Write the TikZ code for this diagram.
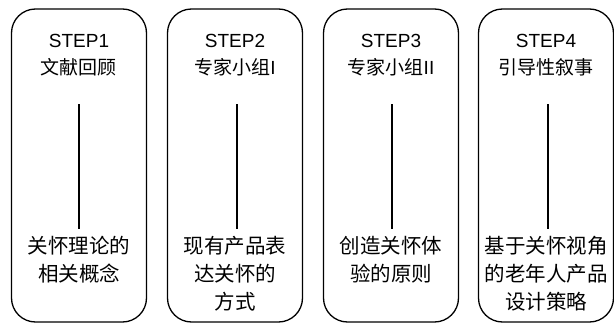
\documentclass[tikz,border=0pt]{standalone}
\usepackage{fontspec}
\setmainfont{Noto Sans CJK SC}
\newfontfamily\latinfont{Liberation Sans}
\begin{document}
\begin{tikzpicture}[x=1pt,y=-1pt,
  stepbox/.style={draw=black,line width=1.3pt,rounded corners=24pt,minimum width=135pt,minimum height=313pt,inner sep=0pt},
  titletext/.style={align=center,font=\fontsize{19}{27}\selectfont,inner sep=0pt},
  bodytext/.style={align=center,font=\fontsize{20.5}{28}\selectfont,inner sep=0pt,anchor=north},
  link/.style={line width=1.5pt}]
\useasboundingbox (0,0) rectangle (614,324);
\foreach \i/\cx in {1/79,2/235,3/391,4/546}{
  \node[stepbox] (box\i) at (\cx,165.5) {};
}
\node[titletext] (t1) at (79,55) {{\latinfont STEP1}\\文献回顾};
\node[titletext] (t2) at (235,55) {{\latinfont STEP2}\\专家小组{\latinfont I}};
\node[titletext] (t3) at (391,55) {{\latinfont STEP3}\\专家小组{\latinfont II}};
\node[titletext] (t4) at (546,55) {{\latinfont STEP4}\\引导性叙事};
\node[bodytext] (b1) at (79,236) {关怀理论的\\相关概念};
\node[bodytext] (b2) at (235,236) {现有产品表\\达关怀的\\方式};
\node[bodytext] (b3) at (391,236) {创造关怀体\\验的原则};
\node[bodytext] (b4) at (546,236) {基于关怀视角\\的老年人产品\\设计策略};
\foreach \i/\cx in {1/79,2/237,3/392,4/548}{
  \coordinate (s\i) at (\cx,104);
  \coordinate (e\i) at (\cx,229);
  \draw[link] (s\i) -- (e\i);
}
\end{tikzpicture}
\end{document}
